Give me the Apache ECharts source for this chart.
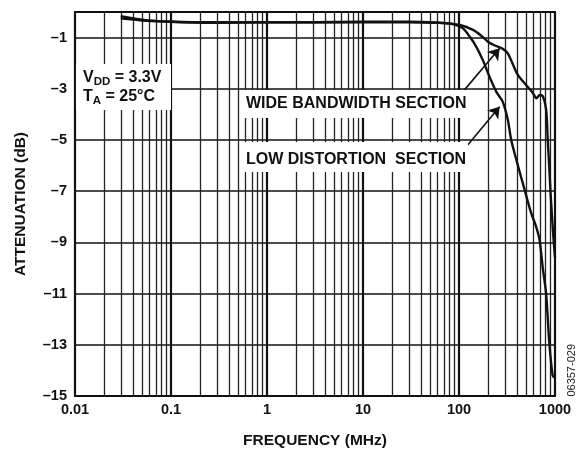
<!DOCTYPE html>
<html>
<head>
<meta charset="utf-8">
<script src="https://cdn.jsdelivr.net/npm/echarts@6/dist/echarts.min.js"></script>
<style>
html,body{margin:0;padding:0;background:#fff;}
#chart{width:587px;height:451px;}
</style>
</head>
<body>
<div id="chart"></div>
<script>
// frequency (MHz) / attenuation (dB)
var freqWide = [0.03, 0.05, 0.1, 0.3, 1, 3, 10, 30, 60, 100, 140, 175, 200, 230, 280, 320, 360, 410, 500, 590, 640, 695, 750, 810, 840, 870, 900, 950, 1000]
var attWide = [-0.25, -0.33, -0.38, -0.4, -0.4, -0.4, -0.38, -0.38, -0.42, -0.5, -0.7, -0.96, -1.16, -1.29, -1.42, -1.6, -2.0, -2.46, -2.85, -3.17, -3.37, -3.24, -3.3, -3.83, -5.0, -6.0, -7.1, -8.5, -9.6]
var freqLow = [0.03, 0.05, 0.1, 0.3, 1, 3, 10, 30, 60, 86, 110, 129, 151, 177, 208, 244, 285, 322, 350, 396, 483, 564, 638, 690, 746, 808, 872, 945, 1000]
var attLow = [-0.16, -0.3, -0.38, -0.42, -0.4, -0.4, -0.4, -0.4, -0.42, -0.47, -0.64, -0.96, -1.35, -1.88, -2.53, -3.11, -3.5, -4.2, -5.0, -5.78, -6.95, -7.85, -8.4, -8.9, -10.0, -11.0, -12.9, -14.2, -14.3]

var minorFreqs = []
var decades = [0.01, 0.1, 1, 10, 100]
decades.forEach(function(d){
    for(var k = 2; k <= 9; k++){
        minorFreqs.push(Number((d * k).toPrecision(3)))
    }
})

// arrow annotations: [from, to] in data coords
var arrowWide = [[110, -3.11], [265, -1.42]]
var arrowLow = [[119, -5.26], [265, -3.7]]

var FONT = '"Liberation Sans", Arial, sans-serif'
var INK = '#111'

function pairs(xs, ys){
    return xs.map(function(x, i){ return [x, ys[i]] })
}

var chart = echarts.init(document.getElementById('chart'))

var options = {
    animation: false,
    grid: {
        left: 75,
        right: 32,
        top: 12,
        bottom: 55,
        outerBoundsMode: 'none',
        show: true,
        borderColor: INK,
        borderWidth: 2,
        backgroundColor: '#fff'
    },
    xAxis: {
        type: 'log',
        logBase: 10,
        min: 0.01,
        max: 1000,
        name: 'FREQUENCY (MHz)',
        nameLocation: 'middle',
        nameGap: 37,
        nameTextStyle: { fontFamily: FONT, fontWeight: 'bold', fontSize: 15.5, color: INK },
        axisLine: { show: false },
        axisTick: { show: false },
        axisLabel: {
            margin: 6,
            fontFamily: FONT, fontWeight: 'bold', fontSize: 14.5, color: INK,
            formatter: function(v){ return String(Number(v.toPrecision(3))) }
        },
        splitLine: { show: true, lineStyle: { color: INK, width: 2.2 } }
    },
    yAxis: {
        type: 'value',
        min: -15,
        max: 0,
        interval: 2,
        name: 'ATTENUATION (dB)',
        nameLocation: 'middle',
        nameGap: 46,
        nameTextStyle: { fontFamily: FONT, fontWeight: 'bold', fontSize: 15.5, color: INK },
        axisLine: { show: false },
        axisTick: { show: false },
        axisLabel: {
            margin: 8,
            fontFamily: FONT, fontWeight: 'bold', fontSize: 14.5, color: INK,
            formatter: function(v){ return v === 0 ? '' : '\u2013' + Math.abs(v) }
        },
        splitLine: { show: true, lineStyle: { color: INK, width: 1.6 } }
    },
    graphic: [
        { type: 'rect', z: 50, shape: { x: 76, y: 64, width: 95, height: 46 }, style: { fill: '#fff' } },
        {
            type: 'text', z: 51, left: 83, top: 67,
            style: {
                text: '{b|V}{s|DD}{b| = 3.3V}\n{b|T}{s|A}{b| = 25°C}',
                rich: {
                    b: { fontFamily: FONT, fontWeight: 'bold', fontSize: 16, lineHeight: 19, fill: INK },
                    s: { fontFamily: FONT, fontWeight: 'bold', fontSize: 11.5, lineHeight: 19, fill: INK, padding: [9, 0, 0, 0] }
                }
            }
        },
        { type: 'rect', z: 50, shape: { x: 240, y: 90, width: 225, height: 28 }, style: { fill: '#fff' } },
        {
            type: 'text', z: 51, left: 246, top: 96,
            style: { text: 'WIDE BANDWIDTH SECTION', fontFamily: FONT, fontWeight: 'bold', fontSize: 16, fill: INK }
        },
        { type: 'rect', z: 50, shape: { x: 240, y: 142, width: 228, height: 30 }, style: { fill: '#fff' } },
        {
            type: 'text', z: 51, left: 246, top: 152,
            style: { text: 'LOW DISTORTION  SECTION', fontFamily: FONT, fontWeight: 'bold', fontSize: 16, fill: INK }
        },
        {
            type: 'text', left: 566, top: 344, rotation: Math.PI / 2,
            style: { text: '06357-029', fontFamily: FONT, fontSize: 11, fill: '#222' }
        }
    ],
    series: [
        {
            name: 'WIDE BANDWIDTH SECTION',
            type: 'line',
            data: pairs(freqWide, attWide),
            smooth: 0.3,
            symbol: 'none',
            z: 60,
            lineStyle: { color: INK, width: 2.4 },
            markLine: {
                silent: true,
                symbol: ['none', 'arrow'],
                symbolSize: 11,
                label: { show: false },
                lineStyle: { color: INK, width: 1.6, type: 'solid' },
                data: [
                    [{ coord: arrowWide[0] }, { coord: arrowWide[1] }],
                    [{ coord: arrowLow[0] }, { coord: arrowLow[1] }]
                ]
            }
        },
        {
            name: 'LOW DISTORTION SECTION',
            type: 'line',
            data: pairs(freqLow, attLow),
            smooth: 0.3,
            symbol: 'none',
            z: 60,
            lineStyle: { color: INK, width: 2.4 }
        },
        {
            // minor log grid lines (2..9 of each decade)
            name: 'minor',
            type: 'line',
            data: [],
            z: 1,
            markLine: {
                silent: true,
                symbol: ['none', 'none'],
                label: { show: false },
                lineStyle: { color: '#222', width: 1.3, type: 'solid' },
                data: minorFreqs.map(function(f){ return { xAxis: f } })
            }
        }
    ]
}

chart.setOption(options)
</script>
</body>
</html>
